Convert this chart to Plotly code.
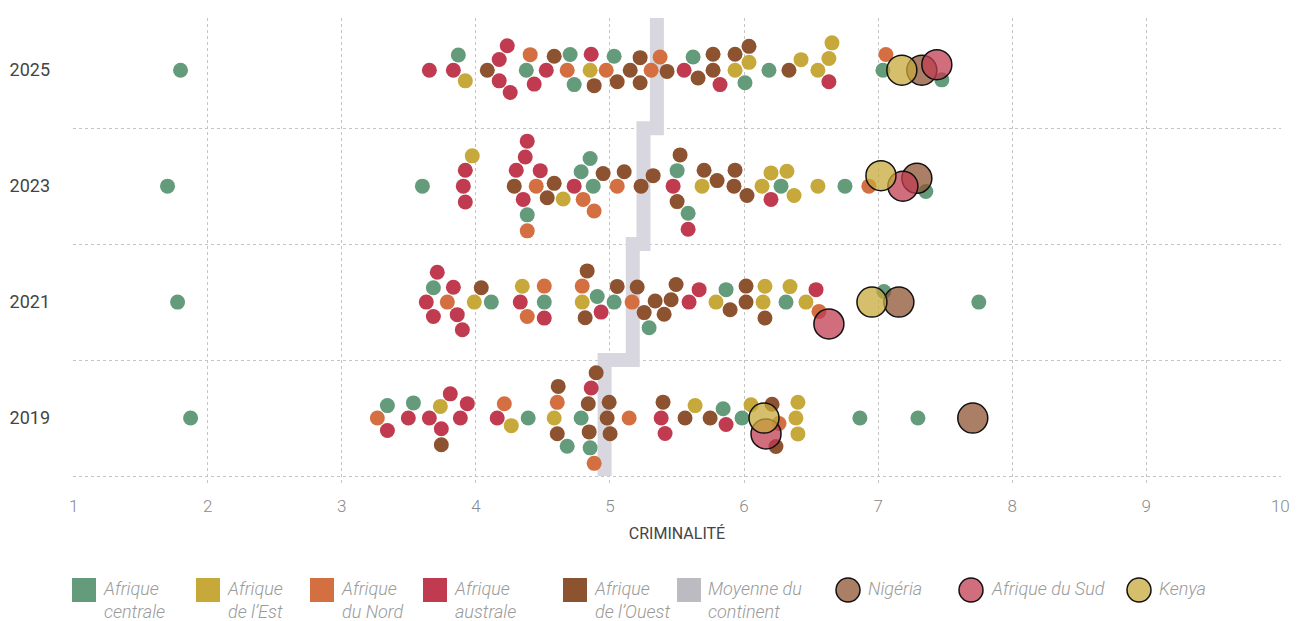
import math
import plotly.graph_objects as go

# ---------------- data ----------------
YEARS = ["2019", "2021", "2023", "2025"]
MOYENNE = [4.96, 5.17, 5.25, 5.35]

CENTRALE = [
    [1.872, 3.340, 3.534, 4.390, 4.681, 4.785, 4.852, 5.844, 5.985, 6.864, 7.297],
    [1.775, 3.683, 4.115, 4.510, 4.905, 5.031, 5.292, 5.866, 6.313, 7.043, 7.751],
    [1.700, 3.601, 4.383, 4.785, 4.875, 4.852, 5.501, 5.583, 6.276, 6.753, 7.356],
    [1.797, 3.869, 4.376, 4.703, 4.733, 5.031, 5.620, 6.007, 6.186, 7.036, 7.475],
]
EST = [
    [3.735, 4.264, 4.584, 5.635, 6.052, 6.402, 6.402, 6.387],
    [3.988, 4.346, 4.793, 5.791, 6.142, 6.156, 6.343, 6.462],
    [3.973, 4.651, 5.687, 6.134, 6.201, 6.320, 6.373, 6.551],
    [3.921, 4.852, 6.037, 5.933, 6.425, 6.551, 6.633, 6.656],
]
NORD = [
    [3.265, 4.212, 4.607, 4.882, 5.143, 6.261],
    [3.787, 4.383, 4.510, 4.793, 5.165, 6.559],
    [4.383, 4.450, 4.800, 4.882, 5.054, 6.931],
    [4.405, 4.681, 4.972, 5.307, 5.374, 7.058],
]
AUSTRALE = [
    [3.340, 3.496, 3.742, 3.653, 3.809, 3.884, 3.936, 4.159, 4.860, 5.411, 5.382, 5.866],
    [3.683, 3.630, 3.899, 3.712, 3.861, 3.832, 4.331, 4.510, 4.934, 5.665, 5.590, 6.537],
    [3.921, 3.921, 3.906, 4.301, 4.383, 4.353, 4.480, 4.368, 4.733, 5.471, 5.583, 6.201],
    [3.653, 3.832, 4.234, 4.256, 4.174, 4.174, 4.435, 4.525, 4.860, 5.553, 5.821, 6.633],
]
OUEST = [
    [3.742, 4.607, 4.614, 4.845, 4.838, 4.897, 4.994, 4.979, 5.001, 5.396, 5.560, 5.747, 6.238, 6.209],
    [4.040, 4.830, 5.054, 4.815, 5.255, 5.203, 5.337, 5.404, 5.493, 5.456, 5.896, 6.015, 6.015, 6.156],
    [4.286, 4.584, 4.532, 4.949, 5.106, 5.232, 5.322, 5.523, 5.501, 5.702, 5.799, 5.925, 5.933, 6.022],
    [4.085, 4.584, 4.882, 5.054, 5.151, 5.225, 5.225, 5.426, 5.657, 5.769, 5.769, 5.933, 6.037, 6.335],
]
NIGERIA = [7.706, 7.155, 7.289, 7.326]
AFRIQUE_DU_SUD = [6.164, 6.633, 7.185, 7.438]
KENYA = [6.149, 6.954, 7.021, 7.177]

REGION_NAMES = ["Afrique centrale", "Afrique de l’Est", "Afrique du Nord",
                "Afrique australe", "Afrique de l’Ouest"]
REGION_DATA = [CENTRALE, EST, NORD, AUSTRALE, OUEST]
REGION_COLORS = ["#639b7b", "#c6a93a", "#d46f42", "#c03b4f", "#8d5230"]

HL_NAMES = ["Nigéria", "Afrique du Sud", "Kenya"]
HL_DATA = [NIGERIA, AFRIQUE_DU_SUD, KENYA]
HL_REGION = [4, 3, 1]
HL_FILL = ["rgba(141,82,48,0.74)", "rgba(192,59,79,0.74)", "rgba(198,169,58,0.74)"]

MEAN_COLOR = "#d8d6df"
MEAN_LEGEND = "#bdbbc2"

# ---------------- geometry ----------------
PAGE_OFF = 8                       # default body margin of the html page
W, H = 1306 - PAGE_OFF, 621 - PAGE_OFF
ML, MR, MT, MB = 73 - PAGE_OFF, 25, 18 - PAGE_OFF, 135
XR = [0.995, 10.005]
YR = [-0.586, 3.45]
PW = W - ML - MR
PH = H - MT - MB
PXX = PW / (XR[1] - XR[0])
PXY = PH / (YR[1] - YR[0])
DOT = 15
BIG = 30
GAP = DOT + 1.0


def beeswarm(xpx, d):
    n = len(xpx)
    order = sorted(range(n), key=lambda i: xpx[i])
    placed = []
    ys = [0.0] * n
    for i in order:
        x = xpx[i]
        cands = [0.0]
        for (px, py) in placed:
            dx = abs(x - px)
            if dx < d:
                h = math.sqrt(d * d - dx * dx)
                cands.append(py + h)
                cands.append(py - h)
        cands.sort(key=lambda c: (round(abs(c), 6), -c))
        for c in cands:
            if all((x - px) ** 2 + (c - py) ** 2 >= d * d - 1e-6 for px, py in placed):
                ys[i] = c
                break
        placed.append((x, ys[i]))
    return ys


reg_x = [[] for _ in REGION_NAMES]
reg_y = [[] for _ in REGION_NAMES]
hl_x = [[] for _ in HL_NAMES]
hl_y = [[] for _ in HL_NAMES]

for yi in range(len(YEARS)):
    items = []
    for r, data in enumerate(REGION_DATA):
        for v in data[yi]:
            items.append((v, r, None))
    for h, data in enumerate(HL_DATA):
        items.append((data[yi], HL_REGION[h], h))
    xpx = [(v - XR[0]) * PXX for v, _, _ in items]
    offs = beeswarm(xpx, GAP)
    for (v, r, h), o in zip(items, offs):
        yy = yi + o / PXY
        if h is None:
            reg_x[r].append(v)
            reg_y[r].append(yy)
        else:
            hl_x[h].append(v)
            hl_y[h].append(yy)

fig = go.Figure()

# continental mean as a stepped band
mx, my = [], []
for i, m in enumerate(MOYENNE):
    mx += [m, m]
    my += [i - 0.5, i + 0.5]
my[-1] = len(MOYENNE) - 0.4
fig.add_trace(go.Scatter(x=mx, y=my, mode="lines", name="Moyenne du continent",
                         line=dict(color=MEAN_COLOR, width=14), showlegend=False,
                         hoverinfo="skip"))

for r, name in enumerate(REGION_NAMES):
    fig.add_trace(go.Scatter(x=reg_x[r], y=reg_y[r], mode="markers", name=name,
                             marker=dict(size=DOT, color=REGION_COLORS[r], line=dict(width=0)),
                             showlegend=False))

for h, name in enumerate(HL_NAMES):
    fig.add_trace(go.Scatter(x=hl_x[h], y=hl_y[h], mode="markers", name=name,
                             marker=dict(size=BIG, color=HL_FILL[h],
                                         line=dict(width=1.5, color="#111111")),
                             showlegend=False))

FONT = "Roboto"

fig.update_xaxes(range=XR, tickvals=list(range(1, 11)), showgrid=True, griddash="dot",
                 gridcolor="#c4c4c4", gridwidth=1, zeroline=False, showline=False,
                 automargin=False,
                 tickfont=dict(family=FONT, size=17, color="#8a8a8a", weight=300),
                 title=dict(text="CRIMINALITÉ", standoff=12,
                            font=dict(family=FONT, size=16, color="#444444")),
                 ticks="", ticklabelstandoff=8)
fig.update_yaxes(range=YR, tickvals=list(range(len(YEARS))), ticktext=YEARS,
                 showgrid=False, zeroline=False, showline=False, ticks="",
                 automargin=False,
                 tickfont=dict(family=FONT, size=18, color="#444444"),
                 ticklabelstandoff=22,
                 minor=dict(tickmode="linear", tick0=-0.5, dtick=1, showgrid=True,
                            griddash="dot", gridcolor="#c4c4c4", gridwidth=1))

# ---------------- legend drawn below the plot ----------------
def xp(px):
    return (px - PAGE_OFF - ML) / PW


def yp(py):
    return (H - MB - (py - PAGE_OFF)) / PH


shapes = []
annotations = []
LEG_FONT = dict(family=FONT, size=18, color="#9a9a9a", style="italic", weight=300)
SQ_LEFT = [72, 196, 310, 423, 563, 677]
SQ_TEXT = ["Afrique<br>centrale", "Afrique<br>de l’Est", "Afrique<br>du Nord",
           "Afrique<br>australe", "Afrique<br>de l’Ouest", "Moyenne du<br>continent"]
SQ_COL = REGION_COLORS + [MEAN_LEGEND]
for xl, t, c in zip(SQ_LEFT, SQ_TEXT, SQ_COL):
    shapes.append(dict(type="rect", xref="paper", yref="paper", x0=xp(xl), x1=xp(xl + 24),
                       y0=yp(602), y1=yp(578), fillcolor=c, line=dict(width=0)))
    annotations.append(dict(xref="paper", yref="paper", x=xp(xl + 29), y=yp(576),
                            xanchor="left", yanchor="top", align="left", showarrow=False,
                            text=t, font=LEG_FONT))
CI_CENTER = [848, 971, 1139]
for cx, t, c in zip(CI_CENTER, HL_NAMES, HL_FILL):
    shapes.append(dict(type="circle", xref="paper", yref="paper", x0=xp(cx - 12), x1=xp(cx + 12),
                       y0=yp(602), y1=yp(578), fillcolor=c, line=dict(width=1.5, color="#111111")))
    annotations.append(dict(xref="paper", yref="paper", x=xp(cx + 18), y=yp(576),
                            xanchor="left", yanchor="top", align="left", showarrow=False,
                            text=t, font=LEG_FONT))

fig.update_layout(width=W, height=H, margin=dict(l=ML, r=MR, t=MT, b=MB),
                  paper_bgcolor="white", plot_bgcolor="white", showlegend=False,
                  shapes=shapes, annotations=annotations,
                  font=dict(family=FONT))

fig.write_html("out.html")
